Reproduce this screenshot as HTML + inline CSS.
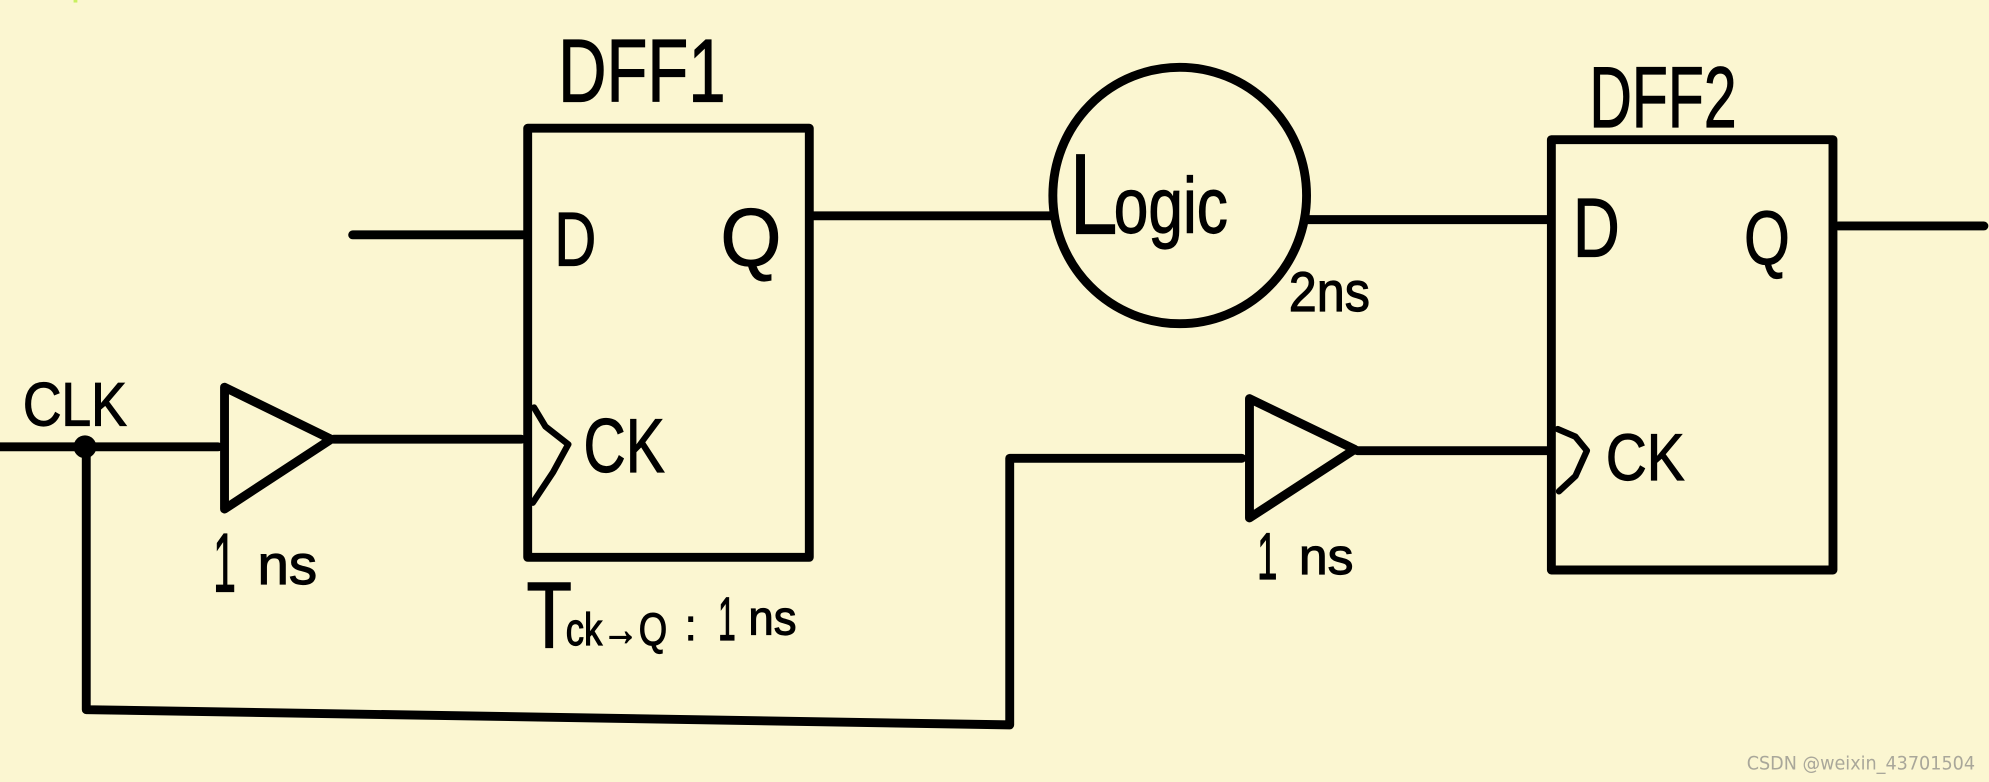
<!DOCTYPE html>
<html><head><meta charset="utf-8">
<style>
html,body{margin:0;padding:0;background:#fbf6d1;width:1989px;height:782px;overflow:hidden}
svg{display:block}
text{font-family:"Liberation Sans",sans-serif;fill:#000;stroke:#000;stroke-width:.9}
.s{fill:none;stroke:#000;stroke-width:7;stroke-linecap:round;stroke-linejoin:round}
</style></head><body>
<svg width="1989" height="782" viewBox="0 0 1568 616" preserveAspectRatio="none" xmlns="http://www.w3.org/2000/svg">
<rect width="1568" height="616" fill="#fbf6d1"/>
<rect x="58" y="0" width="3" height="2" fill="#c8f060"/>
<!-- shapes -->
<rect class="s" x="416" y="101" width="222" height="338"/>
<rect class="s" x="1223" y="110" width="222" height="339"/>
<ellipse class="s" cx="930" cy="154" rx="100" ry="101"/>
<path class="s" d="M278 185H414M641 170H828M1031 173H1221M1449 178H1564"/>
<path class="s" d="M0 352H172M263 346H411M1070 355H1222"/>
<path class="s" d="M177 305L261 346L177 401Z"/>
<path class="s" d="M985 314L1068 354L985 408Z"/>
<path class="s" style="stroke-width:5" d="M421 321L430 336L448 350L436 372L420 396"/>
<path class="s" style="stroke-width:5" d="M1228 338L1242 344L1251 355L1242 375L1229 387"/>
<path class="s" d="M68 352V559L796 571V361H979"/>
<circle cx="67" cy="352" r="9"/>
<!-- labels -->
<text x="440" y="80" font-size="70" textLength="132" lengthAdjust="spacingAndGlyphs">DFF1</text>
<text x="437" y="209" font-size="60" textLength="33" lengthAdjust="spacingAndGlyphs">D</text>
<text x="568" y="209" font-size="64" textLength="48" lengthAdjust="spacingAndGlyphs">Q</text>
<text x="460" y="372" font-size="60" textLength="64" lengthAdjust="spacingAndGlyphs">CK</text>
<text x="18" y="335" font-size="48" textLength="82" lengthAdjust="spacingAndGlyphs">CLK</text>
<text x="168" y="466" font-size="66" textLength="18" lengthAdjust="spacingAndGlyphs">1</text>
<text x="203" y="460" font-size="44" textLength="47" lengthAdjust="spacingAndGlyphs">ns</text>
<text x="415" y="510" font-size="74" textLength="36" lengthAdjust="spacingAndGlyphs">T</text>
<text x="446" y="508" font-size="36" textLength="80" lengthAdjust="spacingAndGlyphs">ck→Q</text>
<text x="540" y="504" font-size="34" textLength="9" lengthAdjust="spacingAndGlyphs">:</text>
<text x="566" y="504" font-size="48" textLength="14" lengthAdjust="spacingAndGlyphs">1</text>
<text x="590" y="500" font-size="38" textLength="38" lengthAdjust="spacingAndGlyphs">ns</text>
<text x="843" y="184" font-size="90" textLength="38" lengthAdjust="spacingAndGlyphs">L</text>
<text x="878" y="183" font-size="62" textLength="90" lengthAdjust="spacingAndGlyphs">ogic</text>
<text x="1016" y="245" font-size="44" textLength="64" lengthAdjust="spacingAndGlyphs">2ns</text>
<text x="1253" y="100" font-size="68" textLength="116" lengthAdjust="spacingAndGlyphs">DFF2</text>
<text x="1240" y="202" font-size="66" textLength="37" lengthAdjust="spacingAndGlyphs">D</text>
<text x="1375" y="208" font-size="60" textLength="36" lengthAdjust="spacingAndGlyphs">Q</text>
<text x="1266" y="378" font-size="52" textLength="62" lengthAdjust="spacingAndGlyphs">CK</text>
<text x="991" y="456" font-size="52" textLength="16" lengthAdjust="spacingAndGlyphs">1</text>
<text x="1024" y="452" font-size="40" textLength="43" lengthAdjust="spacingAndGlyphs">ns</text>
<text x="1377" y="606" font-size="15" textLength="180" lengthAdjust="spacingAndGlyphs" style="font-family:'DejaVu Sans',sans-serif;fill:#a9a79a;stroke:none">CSDN @weixin_43701504</text>
</svg>
</body></html>
